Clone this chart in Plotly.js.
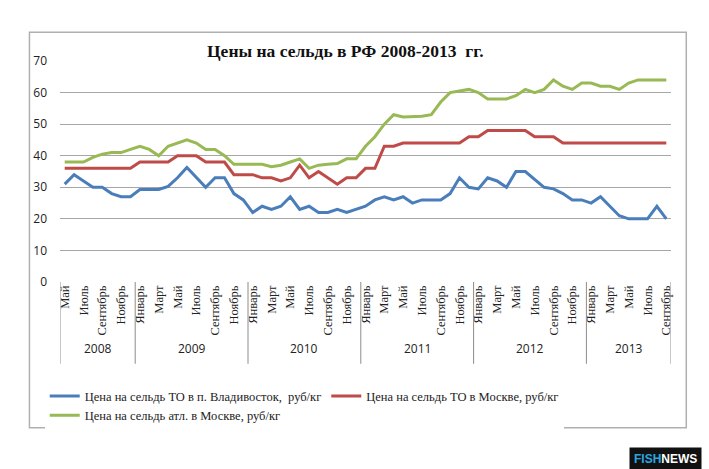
<!DOCTYPE html>
<html>
<head>
<meta charset="utf-8">
<script src="https://cdn.plot.ly/plotly-3.0.1.min.js"></script>
<style>body{margin:0;background:#fff}#chart{width:709px;height:469px}</style>
</head>
<body>
<div id="chart"></div>
<script>
// months May 2008 .. Sep 2013
const monthNames = ['Январь','Февраль','Март','Апрель','Май','Июнь','Июль','Август','Сентябрь','Октябрь','Ноябрь','Декабрь'];
const years = ['2008', '2009', '2010', '2011', '2012', '2013'];

const vladivostok = [31,34,32,30,30,28,27,27,29.3,29.3,29.3,30.3,33,36.3,33,30,33,33,28,26,
    22,24,23,24,27,23,24,22,22,23,22,23,24,26,27,26,27,25,26,26,
    26,28,33,30,29.5,33,32,30,35,35,32.5,30,29.5,28,26,26,25,27,24,21,
    20,20,20,24,20];
const moscowTO = [36,36,36,36,36,36,36,36,38,38,38,38,40,40,40,38,38,38,34,34,
    34,33,33,32,33,37,33,35,33,31,33,33,36,36,43,43,44,44,44,44,
    44,44,44,46,46,48,48,48,48,48,46,46,46,44,44,44,44,44,44,44,
    44,44,44,44,44];
const moscowAtl = [38,38,38,39.5,40.5,41,41,42,43,42,40,43,44,45,44,42,42,40,37.3,37.3,
    37.3,37.3,36.5,37,38,39,36,37,37.3,37.5,39,39,43,46,50,53,52.3,52.3,52.5,53,
    57,60,60.5,61,60,58,58,58,59,61,60,61,64,62,61,63,63,62,62,61,
    63,64,64,64,64];

const names = ['Цена на сельдь ТО в п. Владивосток,  руб/кг', 'Цена на сельдь ТО в Москве, руб/кг', 'Цена на сельдь атл. в Москве, руб/кг'];
const colors = ['#4a7ebb', '#be4b48', '#98b954'];

// month labels, every other one
const idx = vladivostok.map((v, i) => i);
const tickvals = [], ticktext = [];
idx.forEach(i => {
    if (i % 2 === 0) {
        tickvals.push(i);
        ticktext.push(monthNames[(i + 4) % 12]);
    }
});

const traces = [vladivostok, moscowTO, moscowAtl].map((ys, k) => ({
    x: idx, y: ys, name: names[k], mode: 'lines', type: 'scatter',
    line: {color: colors[k], width: 3}
}));

// year separators and labels
const shapes = [];
const annotations = [];
const yearStart = [-0.5, 7.5, 19.5, 31.5, 43.5, 55.5];
const yearEnd = [7.5, 19.5, 31.5, 43.5, 55.5, 64.5];
yearStart.concat([64.5]).forEach(b => {
    shapes.push({type: 'line', xref: 'x', yref: 'paper', x0: b, x1: b, y0: 0, y1: -0.37, line: {color: '#8c8c8c', width: 1}});
});
years.forEach((yr, i) => {
    annotations.push({xref: 'x', yref: 'paper', x: (yearStart[i] + yearEnd[i]) / 2, y: -0.3, text: yr, showarrow: false,
        yanchor: 'middle', font: {family: 'Open Sans, sans-serif', size: 12, color: '#222'}});
});
shapes.push({type: 'rect', xref: 'paper', yref: 'paper', x0: -0.05, x1: 1.025, y0: -0.66, y1: 1.13, line: {color: '#b0b0b0', width: 1.5}});
annotations.push({xref: 'paper', yref: 'paper', x: 0.467, y: 1.1, text: '<b>Цены на сельдь в РФ 2008-2013  гг.</b>', showarrow: false,
    font: {family: 'Liberation Serif, serif', size: 17.5, color: '#111'}});
annotations.push({xref: 'paper', yref: 'paper', x: 1.05, y: -0.8, xanchor: 'right', yanchor: 'middle', showarrow: false,
    text: '<b><span style="color:#29a8e0">FISH</span>NEWS</b>', bgcolor: '#111', borderpad: 4,
    font: {family: 'Liberation Sans Narrow, Arial, sans-serif', size: 12, color: '#fff'}});

const layout = {
    width: 709, height: 469,
    margin: {l: 60, r: 38, t: 61, b: 187},
    paper_bgcolor: '#fff', plot_bgcolor: '#fff',
    showlegend: true,
    legend: {orientation: 'h', x: -0.025, y: -0.45, xanchor: 'left', yanchor: 'top', traceorder: 'normal',
        font: {family: 'Liberation Serif, serif', size: 12.5, color: '#222'}, itemwidth: 30, tracegroupgap: 0},
    xaxis: {range: [-0.5, 64.5], tickvals: tickvals, ticktext: ticktext, tickangle: -90, showgrid: false, zeroline: false,
        ticks: '', tickfont: {family: 'Liberation Serif, serif', size: 12.5, color: '#222'}, showline: false},
    yaxis: {range: [0, 70], dtick: 10, showgrid: true, gridcolor: '#a6a6a6', gridwidth: 1.2, zeroline: false,
        tickfont: {family: 'Open Sans, sans-serif', size: 12, color: '#222'}, ticklabelstandoff: 12},
    shapes: shapes,
    annotations: annotations
};

Plotly.newPlot('chart', traces, layout, {staticPlot: true, displayModeBar: false});
</script>
</body>
</html>
